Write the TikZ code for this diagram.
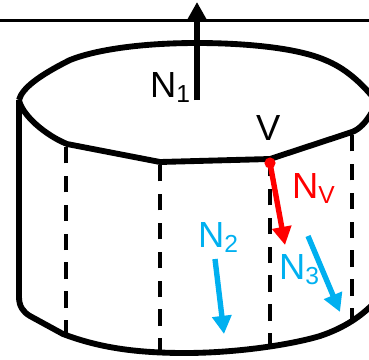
\documentclass[tikz,border=0pt]{standalone}
\usepackage{fontspec}
\setmainfont{Liberation Sans}
\usepackage{xcolor}
\usetikzlibrary{arrows.meta}
\definecolor{normalblue}{HTML}{00B0F0}
\definecolor{normalred}{HTML}{FF0000}
\newcommand{\lowsub}[1]{\raisebox{-4.5pt}{\fontsize{21}{21}\selectfont #1}}

\begin{document}
\begin{tikzpicture}[
    x=0.03cm, y=-0.03cm,
    outline/.style={line width=5pt, line join=round},
    edge/.style={line width=3.4pt, dash pattern=on 14.2pt off 10.5pt},
    horizon/.style={line width=2.5pt},
    label/.style={anchor=base west, inner sep=0pt, font=\fontsize{31}{31}\selectfont},
    arrow/.style={-{Triangle[length=15.5pt, width=16pt]}, line width=4.6pt},
]
\useasboundingbox (0, 0) rectangle (369, 359);
\clip (0, 0) rectangle (369, 359);

% --- Horizontal line ---
\coordinate (lineL) at (0, 20.5);
\coordinate (lineR) at (369, 20.5);
\draw[horizon] (lineL) -- (lineR);

% --- Dashed edges ---
\draw[edge, dash phase=1.7pt] (66, 335) -- (66, 145);
\draw[edge, dash phase=4.3pt] (160, 350) -- (160, 163);
\draw[edge, dash phase=3.4pt] (270, 346) -- (270, 161);
\draw[edge, dash phase=3.4pt] (352, 321) -- (352, 134);

% --- Cylinder ---
\draw[outline] (19, 100) .. controls (22, 88) and (40, 75) .. (70, 60)
    .. controls (95, 50) and (140, 43) .. (197, 43)
    .. controls (240, 43) and (295, 47) .. (325, 60)
    .. controls (345, 68) and (360, 82) .. (372, 96);
\draw[outline] (19, 100) .. controls (22, 115) and (45, 135) .. (67, 144)
    -- (160, 162) -- (270, 159) -- (352, 132)
    .. controls (360, 129) and (366, 122) .. (372, 112);
\draw[outline] (19, 100) -- (19, 297)
    .. controls (19, 306) and (23, 312) .. (30, 316)
    -- (63, 334) .. controls (95, 346) and (130, 353) .. (185, 353)
    .. controls (235, 353) and (290, 345) .. (320, 336)
    .. controls (335, 331) and (355, 322) .. (372, 305);

% --- Normals ---
\coordinate (n1s) at (197, 100);
\coordinate (n1e) at (197, 2);
\draw[arrow] (n1s) -- (n1e);

\node[circle, fill=normalred, inner sep=0pt, minimum size=9.5pt] (vertex) at (270, 163) {};
\coordinate (nve) at (285, 245);
\draw[arrow, normalred] (vertex.center) -- (nve);

\coordinate (n2s) at (215, 259);
\coordinate (n2e) at (224, 334);
\draw[arrow, normalblue] (n2s) -- (n2e);

\coordinate (n3s) at (308, 236);
\coordinate (n3e) at (340, 312);
\draw[arrow, normalblue] (n3s) -- (n3e);

% --- Labels ---
\node[label] (n1) at (150, 97) {N\lowsub{1}};
\node[label] (v) at (256, 140) {V};
\node[label, text=normalred] (nv) at (292, 198) {N\lowsub{V}};
\node[label, text=normalblue] (n2) at (198, 247) {N\lowsub{2}};
\node[label, text=normalblue] (n3) at (279, 279) {N\lowsub{3}};
\end{tikzpicture}
\end{document}
